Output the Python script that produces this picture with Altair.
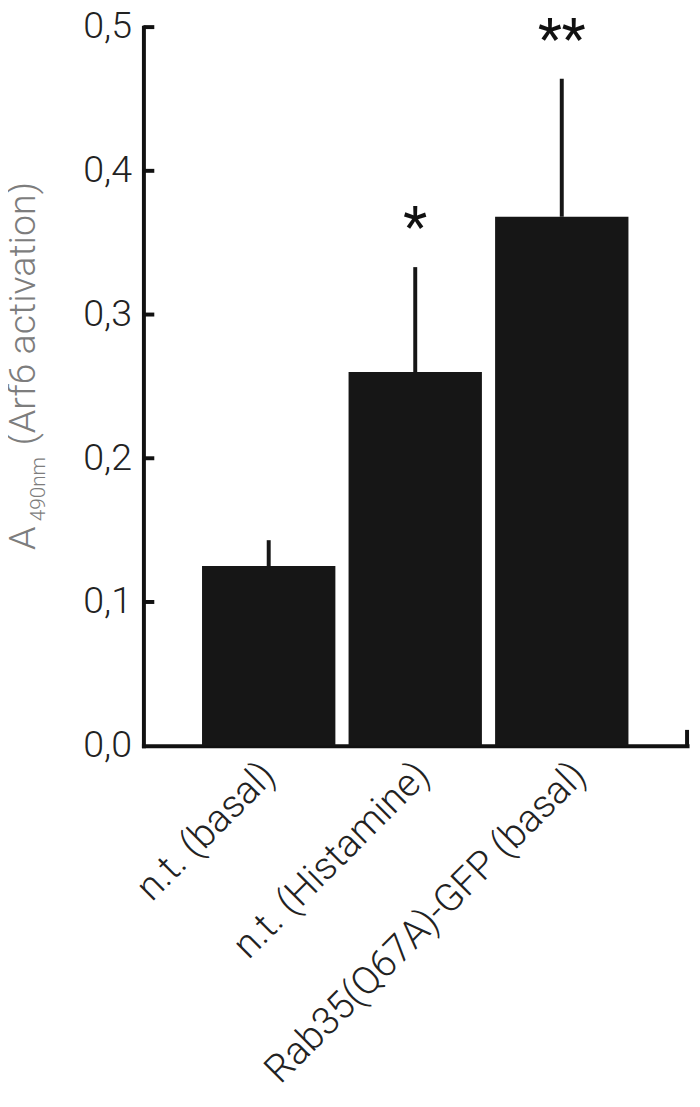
import altair as alt
import pandas as pd

categories = ["n.t. (basal)", "n.t. (Histamine)", "Rab35(Q67A)-GFP (basal)"]
means = [0.125, 0.260, 0.368]
errors = [0.018, 0.073, 0.096]
significance = ["", "*", "**"]
tick_values = [0.0, 0.1, 0.2, 0.3, 0.4, 0.5]

df = pd.DataFrame({"cat": categories, "mean": means, "err": errors, "sig": significance})
df["top"] = df["mean"] + df["err"]
ticks_df = pd.DataFrame({"v": tick_values[1:]})

FONT = "Roboto"
BAR = "#161616"
W, H = 550, 727

xscale = alt.Scale(domain=categories, paddingInner=0.09, paddingOuter=0.4)
yscale = alt.Scale(domain=[0, 0.5], nice=False, zero=True)

label_offset = {
    "condition": [
        {"test": f"datum.value == '{categories[1]}'", "value": 8},
        {"test": f"datum.value == '{categories[2]}'", "value": 18},
    ],
    "value": 0,
}

x_enc = alt.X(
    "cat:N", sort=categories, scale=xscale, title=None,
    axis=alt.Axis(
        domain=True, domainColor="#111", domainWidth=4, ticks=False, grid=False,
        labelAngle=315, labelAlign="right", labelBaseline="middle", labelPadding=23,
        labelOffset=label_offset,
        labelFont=FONT, labelFontWeight=300, labelFontSize=39, labelColor="#222",
        labelLimit=1000,
    ),
)
y_enc = alt.Y(
    "mean:Q", scale=yscale, title=None,
    axis=alt.Axis(
        values=tick_values, domain=True, domainColor="#111", domainWidth=4,
        ticks=False, grid=False, labelPadding=12,
        labelExpr="replace(format(datum.value, '.1f'), '.', ',')",
        labelFont=FONT, labelFontWeight=300, labelFontSize=38, labelColor="#222",
        labelBaseline="middle",
    ),
)

bars = alt.Chart(df).mark_bar(color=BAR).encode(x=x_enc, y=y_enc)

errs = alt.Chart(df).mark_rule(color=BAR, strokeWidth=4).encode(
    x=alt.X("cat:N", sort=categories, scale=xscale),
    y=alt.Y("mean:Q", scale=yscale),
    y2="top:Q",
)

stars = alt.Chart(df).mark_text(
    font=FONT, fontSize=56, fontWeight=400, color="#111", baseline="alphabetic", dy=-21
).encode(
    x=alt.X("cat:N", sort=categories, scale=xscale),
    y=alt.Y("top:Q", scale=yscale),
    text="sig:N",
)

yticks = alt.Chart(ticks_df).mark_rule(color="#111", strokeWidth=4).encode(
    x=alt.value(0), x2=alt.value(11), y=alt.Y("v:Q", scale=yscale)
)

end_tick = alt.Chart(pd.DataFrame({"a": [0]})).mark_rule(color="#111", strokeWidth=4).encode(
    x=alt.value(W), y=alt.value(H - 16), y2=alt.value(H + 1)
)

TITLE_COLOR = "#7d7d7d"
t_main = alt.Chart(pd.DataFrame({"t": ["A"]})).mark_text(
    font=FONT, fontWeight=300, fontSize=38, color=TITLE_COLOR, angle=270,
    align="left", baseline="alphabetic",
).encode(text="t:N", x=alt.value(-110), y=alt.value(529))
t_sub = alt.Chart(pd.DataFrame({"t": ["490nm"]})).mark_text(
    font=FONT, fontWeight=300, fontSize=21, color=TITLE_COLOR, angle=270,
    align="left", baseline="alphabetic",
).encode(text="t:N", x=alt.value(-100), y=alt.value(500))
t_rest = alt.Chart(pd.DataFrame({"t": ["(Arf6 activation)"]})).mark_text(
    font=FONT, fontWeight=300, fontSize=38, color=TITLE_COLOR, angle=270,
    align="left", baseline="alphabetic",
).encode(text="t:N", x=alt.value(-110), y=alt.value(423))

chart = alt.layer(bars, errs, stars, yticks, end_tick, t_main, t_sub, t_rest).properties(
    width=W, height=H,
    autosize=alt.AutoSizeParams(type="none"),
    padding={"left": 137, "top": 13, "right": 5, "bottom": 343},
).configure_view(stroke=None).configure_axis(domainCap="square")

chart.save("out.html", embed_options={"renderer": "svg", "actions": False})
